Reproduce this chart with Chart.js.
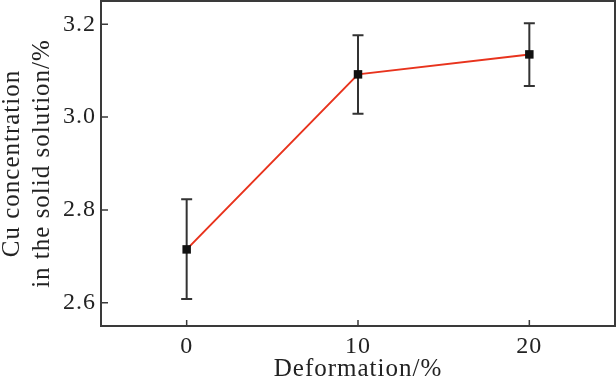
<!DOCTYPE html>
<html>
<head>
<meta charset="utf-8">
<script src="https://cdn.jsdelivr.net/npm/chart.js@4"></script>
<style>
  html, body { margin: 0; padding: 0; background: #fff; }
  #wrap { width: 616px; height: 378px; }
</style>
</head>
<body>
<div id="wrap"><canvas id="cuChart" width="616" height="378"></canvas></div>
<script>
// deformation levels and measured Cu content
var deformation = [0, 10, 20];
var cuValues = [2.715, 3.092, 3.135];
var cuUpper = [2.823, 3.176, 3.202];
var cuLower = [2.608, 3.007, 3.067];

var xTicks = [0, 10, 20];
var yTicks = [2.6, 2.8, 3.0, 3.2];

var axisColor = '#3a3a3a';
var serif = 'Liberation Serif, Times New Roman, serif';

/*---------------- frame, inside ticks and error bars ----------------*/
var framePlugin = {
  id: 'frame',
  beforeDraw: function(chart) {
    chart.ctx.letterSpacing = '1px';
  },
  beforeDatasetsDraw: function(chart) {
    var ctx = chart.ctx;
    var xs = chart.scales.x, ys = chart.scales.y;
    ctx.save();
    ctx.strokeStyle = '#333';
    ctx.lineWidth = 2;
    for (var i = 0; i < deformation.length; i++) {
      var px = xs.getPixelForValue(deformation[i]);
      var top = ys.getPixelForValue(cuUpper[i]);
      var bot = ys.getPixelForValue(cuLower[i]);
      ctx.beginPath();
      ctx.moveTo(px, top); ctx.lineTo(px, bot);
      ctx.moveTo(px - 5.5, top); ctx.lineTo(px + 5.5, top);
      ctx.moveTo(px - 5.5, bot); ctx.lineTo(px + 5.5, bot);
      ctx.stroke();
    }
    ctx.restore();
  },
  afterDraw: function(chart) {
    var ctx = chart.ctx;
    var a = chart.chartArea;
    var xs = chart.scales.x, ys = chart.scales.y;
    ctx.save();
    ctx.strokeStyle = axisColor;
    ctx.lineWidth = 2;
    ctx.strokeRect(a.left, a.top, a.right - a.left, a.bottom - a.top);
    ctx.beginPath();
    yTicks.forEach(function(v) {
      var py = ys.getPixelForValue(v);
      ctx.moveTo(a.left, py); ctx.lineTo(a.left + 7, py);
    });
    xTicks.forEach(function(v) {
      var px = xs.getPixelForValue(v);
      ctx.moveTo(px, a.bottom); ctx.lineTo(px, a.bottom - 6);
    });
    ctx.lineWidth = 1.5;
    ctx.stroke();
    ctx.restore();
  }
};

new Chart("cuChart", {
  type: "line",
  data: {
    datasets: [{
      data: deformation.map(function(d, i) { return {x: d, y: cuValues[i]}; }),
      borderColor: "#e8331d",
      borderWidth: 2,
      pointStyle: "rect",
      pointRadius: 6,
      pointBackgroundColor: "#111",
      pointBorderColor: "#111",
      pointBorderWidth: 0,
      tension: 0,
      fill: false
    }]
  },
  options: {
    responsive: false,
    animation: false,
    layout: { autoPadding: false, padding: { top: 1, right: 1, left: 0, bottom: 0 } },
    plugins: {
      legend: { display: false },
      tooltip: { enabled: false }
    },
    scales: {
      x: {
        type: "linear",
        min: -5,
        max: 25,
        grid: { display: false, drawTicks: false },
        border: { display: false },
        afterBuildTicks: function(s) { s.ticks = xTicks.map(function(v) { return {value: v}; }); },
        afterFit: function(s) { s.height = 52; s.paddingLeft = 0; s.paddingRight = 0; },
        ticks: { color: "#222", padding: 6, font: { family: serif, size: 24 } },
        title: {
          display: true,
          text: "Deformation/%",
          color: "#222",
          padding: { top: 0, bottom: -6 },
          font: { family: serif, size: 25 }
        }
      },
      y: {
        min: 2.55,
        max: 3.25,
        grid: { display: false, drawTicks: false },
        border: { display: false },
        afterBuildTicks: function(s) { s.ticks = yTicks.map(function(v) { return {value: v}; }); },
        afterFit: function(s) { s.width = 101; s.paddingTop = 0; s.paddingBottom = 0; },
        ticks: {
          color: "#222",
          padding: 5,
          font: { family: serif, size: 24 },
          callback: function(v) { return v.toFixed(1); }
        },
        title: {
          display: true,
          text: ["Cu concentration", "in the solid solution/%"],
          color: "#222",
          padding: { top: -3, bottom: 0 },
          font: { family: serif, size: 25 }
        }
      }
    }
  },
  plugins: [framePlugin]
});
</script>
</body>
</html>
